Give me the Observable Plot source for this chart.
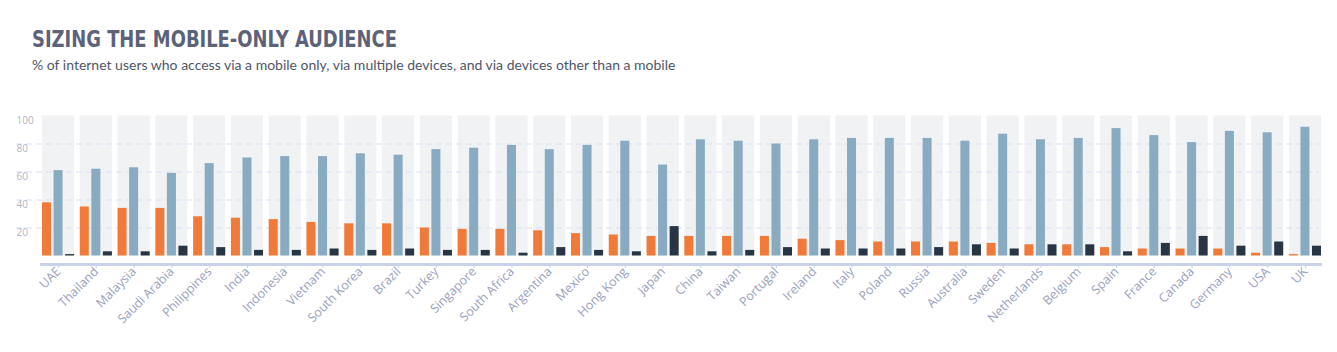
<!DOCTYPE html>
<html><head><meta charset="utf-8">
<script src="https://cdn.jsdelivr.net/npm/d3@7"></script>
<script src="https://cdn.jsdelivr.net/npm/@observablehq/plot@0.6"></script>
<style>
body{margin:0;background:#fff;width:1337px;height:352px;overflow:hidden;}
#header{position:relative;height:90px;}
#title{position:absolute;left:32px;top:28px;font-weight:bold;font-size:22.5px;font-family:"DejaVu Sans Condensed",sans-serif;color:#5c6378;margin:0;line-height:1;white-space:nowrap;transform:scaleX(0.885);transform-origin:0 0;}
#subtitle{position:absolute;left:32px;top:58px;font-size:14px;font-family:Lato,sans-serif;color:#4f5667;line-height:1;white-space:nowrap;}
#chart{position:relative;width:1337px;height:262px;}
#chart svg{display:block;position:absolute;left:0;top:0;}
</style></head>
<body>
<div id="header">
<div id="title">SIZING THE MOBILE-ONLY AUDIENCE</div>
<div id="subtitle">% of internet users who access via a mobile only, via multiple devices, and via devices other than a mobile</div>
</div>
<div id="chart"></div>
<script>
const countries = ["UAE","Thailand","Malaysia","Saudi Arabia","Philippines","India","Indonesia","Vietnam","South Korea","Brazil","Turkey","Singapore","South Africa","Argentina","Mexico","Hong Kong","Japan","China","Taiwan","Portugal","Ireland","Italy","Poland","Russia","Australia","Sweden","Netherlands","Belgium","Spain","France","Canada","Germany","USA","UK"];
const seriesNames = ["Mobile only","Multiple devices","Other than mobile"];
const mobileOnly = [38,35,34,34,28,27,26,24,23,23,20,19,19,18,16,15,14,14,14,14,12,11,10,10,10,9,8,8,6,5,5,5,2,1];
const multipleDevices = [61,62,63,59,66,70,71,71,73,72,76,77,79,76,79,82,65,83,82,80,83,84,84,84,82,87,83,84,91,86,81,89,88,92];
const otherThanMobile = [1,3,3,7,6,4,4,5,4,5,4,4,2,6,4,3,21,3,4,6,5,5,5,6,8,5,8,8,3,9,14,7,10,7];
const yTicks = [100,80,60,40,20];
const gridValues = [80,60,40,20];
const seriesColors = ["#ef7a39","#88abc2","#283544"];

const rows = countries.flatMap((c, i) => [
  {country: c, series: seriesNames[0], value: mobileOnly[i]},
  {country: c, series: seriesNames[1], value: multipleDevices[i]},
  {country: c, series: seriesNames[2], value: otherThanMobile[i]}
]);

const common = {
  width: 1337,
  height: 262,
  marginTop: 25.5,
  marginBottom: 88,
  marginLeft: 16,
  marginRight: 15,
  style: {fontFamily: "'Open Sans', sans-serif", background: "transparent"}
};
const bandScale = {domain: countries, range: [42, 1321], paddingInner: 0.15, paddingOuter: 0, round: false};
const yScale = {domain: [0, 100], insetBottom: 8.5, axis: null};

// Layer 1: background bands, gridlines, axis line, labels
const back = Plot.plot({
  ...common,
  x: {...bandScale, axis: null},
  y: yScale,
  marks: [
    Plot.barY(countries, {x: d => d, y1: 0, y2: 100, fill: "#f1f2f4"}),
    Plot.ruleY(gridValues, {y: d => d, stroke: "#dbdff1", strokeWidth: 1, strokeDasharray: "6,4", insetRight: 3}),
    Plot.ruleY([0], {y: d => d, dy: 8.5, stroke: "#c9d2e6", strokeWidth: 3, insetLeft: 24}),
    Plot.text(yTicks, {y: d => d, text: d => String(d), frameAnchor: "left", textAnchor: "start", dy: 5, fill: "#b0b5c4", fontSize: 10}),
    Plot.axisX({anchor: "bottom", tickRotate: -45, tickSize: 4, tickPadding: 1, fontSize: 12.5, stroke: "#c9d2e6", fill: "#9aa2bb", label: null})
  ]
});

// Layer 2: grouped bars (faceted by country)
const front = Plot.plot({
  ...common,
  fx: {...bandScale, axis: null},
  x: {domain: seriesNames, paddingInner: 0.22, paddingOuter: 0, round: false, axis: null},
  y: yScale,
  color: {domain: seriesNames, range: seriesColors},
  marks: [
    Plot.barY(rows, {fx: "country", x: "series", y: "value", fill: "series"})
  ]
});
const el = document.getElementById("chart");
el.appendChild(back);
el.appendChild(front);
</script>
</body></html>
